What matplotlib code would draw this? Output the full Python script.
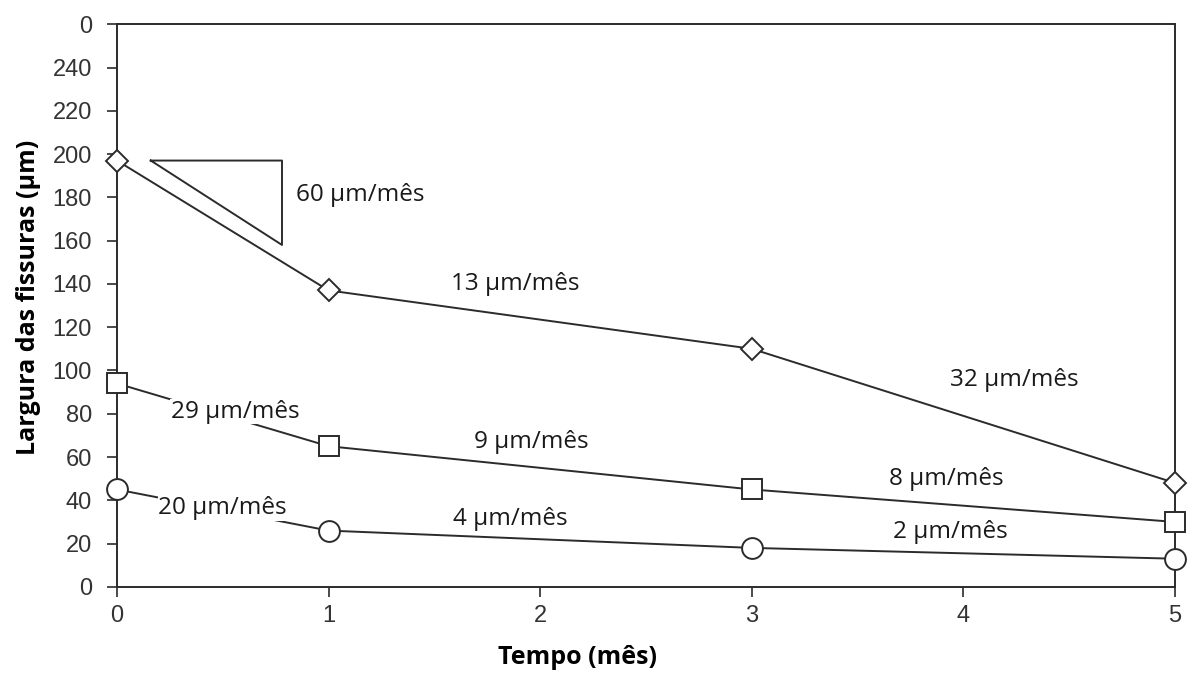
import matplotlib
matplotlib.use("Agg")
import matplotlib.pyplot as plt

# data
tempo = [0, 1, 3, 5]
losango = [197, 137, 110, 48]
quadrado = [94, 65, 45, 30]
circulo = [45, 26, 18, 13]

y_ticks = [0, 20, 40, 60, 80, 100, 120, 140, 160, 180, 200, 220, 240, 260]
y_labels = ['0', '20', '40', '60', '80', '100', '120', '140', '160', '180', '200', '220', '240', '0']

# slope triangle corners (time, width)
tri_x = [0.16, 0.78, 0.78, 0.16]
tri_y = [197, 197, 158, 197]

taxas = ['60 µm/mês', '13 µm/mês', '32 µm/mês', '29 µm/mês', '9 µm/mês',
         '8 µm/mês', '20 µm/mês', '4 µm/mês', '2 µm/mês']
taxa_x = [1.15, 1.88, 4.24, 0.56, 1.96, 3.92, 0.50, 1.86, 3.94]
taxa_y = [181, 140, 95.5, 81, 67, 50, 36.5, 31.5, 25.5]

cor = '#2b2b2b'
fig = plt.figure(figsize=(11.93, 6.73), dpi=100)
ax = fig.add_axes([0.098, 0.128, 0.887, 0.836])

kw = dict(color=cor, lw=1.4, markerfacecolor='white', markeredgecolor=cor,
          markeredgewidth=1.4, clip_on=False, zorder=3)
ax.plot(tempo, losango, marker='D', markersize=11, **kw)
ax.plot(tempo, quadrado, marker='s', markersize=15, **kw)
ax.plot(tempo, circulo, marker='o', markersize=15, **kw)

ax.plot(tri_x, tri_y, color=cor, lw=1.4)

for t, x, y in zip(taxas, taxa_x, taxa_y):
    ax.text(x, y, t, ha='center', va='center', fontsize=17.5, family='Open Sans',
            color='#1a1a1a', zorder=4,
            bbox=dict(facecolor='white', edgecolor='none', pad=0.5))

ax.set_xlim(0, 5)
ax.set_ylim(0, 260)
ax.set_xticks([0, 1, 2, 3, 4, 5])
ax.set_yticks(y_ticks)
ax.set_yticklabels(y_labels)
ax.tick_params(direction='out', length=7, width=1.2, colors=cor, labelsize=17,
               labelcolor='#333333')
ax.tick_params(axis='y', pad=11)
ax.tick_params(axis='x', pad=6)
for lab in ax.get_xticklabels() + ax.get_yticklabels():
    lab.set_family('Liberation Sans')
for s in ax.spines.values():
    s.set_color(cor)
    s.set_linewidth(1.4)

ax.set_xlabel('Tempo (mês)', fontsize=18, fontweight='bold', family='Open Sans')
ax.set_ylabel('Largura das fissuras (µm)', fontsize=18, fontweight='bold',
              family='Open Sans')
ax.xaxis.set_label_coords(0.435, -0.103)
ax.yaxis.set_label_coords(-0.072, 0.515)

fig.savefig('out.png', dpi=100)
